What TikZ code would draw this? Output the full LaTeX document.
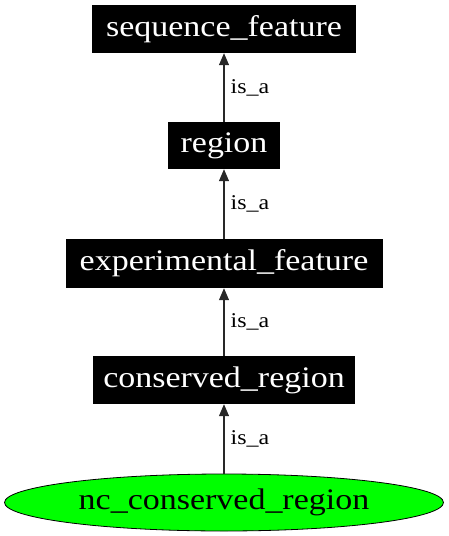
\documentclass[tikz,border=0pt]{standalone}
\usepackage{fontspec}
\setmainfont{Liberation Serif}[FakeStretch=1.14]
\usetikzlibrary{arrows.meta,shapes.geometric}
\begin{document}
\begin{tikzpicture}[x=1pt,y=-1pt,
  termbox/.style={rectangle,fill=black,text=white,inner sep=0pt,
    font=\fontsize{29.8}{34}\selectfont},
  leafnode/.style={ellipse,draw=black,line width=0.8pt,fill={rgb,255:red,0;green,255;blue,0},inner sep=0pt,
    font=\fontsize{29.8}{34}\selectfont},
  isa/.style={draw={rgb,255:red,40;green,40;blue,40},line width=1.2pt,-{Triangle[width=10pt,length=12pt]}},
  elabel/.style={anchor=west,inner sep=0pt,font=\fontsize{21}{24}\selectfont}]
\useasboundingbox (0,0) rectangle (448,536);
\node[termbox,minimum width=264pt,minimum height=48pt] (sf) at (224,29) {sequence\_feature};
\node[termbox,minimum width=112pt,minimum height=47pt] (rg) at (224,145.5) {region};
\node[termbox,minimum width=317pt,minimum height=49pt] (ef) at (224,263.5) {experimental\_feature};
\node[termbox,minimum width=262pt,minimum height=48pt] (cr) at (224,380) {conserved\_region};
\node[leafnode,minimum width=439pt,minimum height=57pt] (nc) at (224,502.5) {nc\_conserved\_region};
\draw[isa] (rg) -- node[elabel,pos=0.5,xshift=6pt] {is\_a} (sf);
\draw[isa] (ef) -- node[elabel,pos=0.5,xshift=6pt] {is\_a} (rg);
\draw[isa] (cr) -- node[elabel,pos=0.5,xshift=6pt] {is\_a} (ef);
\draw[isa] (nc) -- node[elabel,pos=0.5,xshift=6pt] {is\_a} (cr);
\end{tikzpicture}
\end{document}
